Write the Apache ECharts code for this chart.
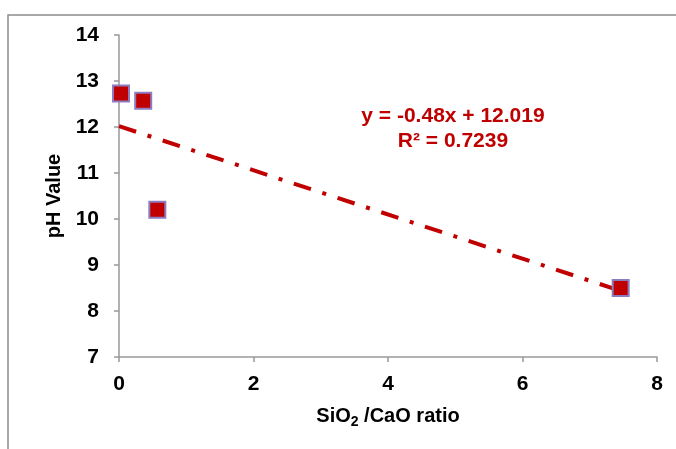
<!DOCTYPE html>
<html>
<head>
<meta charset="utf-8" />
<title>pH vs SiO2/CaO</title>
<script src="https://cdn.jsdelivr.net/npm/echarts@6/dist/echarts.min.js"></script>
<style>
  html, body { margin: 0; padding: 0; background: #fff; }
  #chart { width: 676px; height: 449px; }
</style>
</head>
<body>
<div id="chart"></div>
<script>
// measured points
const ratio = [0.03, 0.36, 0.57, 7.46];
const ph = [12.73, 12.57, 10.2, 8.5];
// trend line end points (y = -0.48x + 12.019)
const trendX = [0, 7.46];
const trendY = [12.019, 8.438];
const eqText = ['y = -0.48x + 12.019', 'R² = 0.7239'];

const red = '#C00000';
const chart = echarts.init(document.getElementById('chart'));

const pts = ratio.map(function (x, i) { return [x, ph[i]]; });
const trend = trendX.map(function (x, i) { return [x, trendY[i]]; });

chart.setOption({
  animation: false,
  textStyle: { fontFamily: 'Liberation Sans, Arial, sans-serif' },
  grid: { left: 119, right: 19, top: 35, bottom: 92 },
  graphic: [
    {
      type: 'rect',
      shape: { x: 8, y: 15, width: 720, height: 500 },
      style: { fill: 'none', stroke: '#8c8c8c', lineWidth: 1.5 },
      silent: true
    },
    {
      type: 'text',
      style: {
        text: eqText.join('\n'), x: 453, y: 104, textAlign: 'center',
        fill: red, font: 'bold 21px Liberation Sans, Arial', lineHeight: 25
      },
      silent: true
    }
  ],
  xAxis: {
    type: 'value', min: 0, max: 8, interval: 2,
    name: '{a|SiO}{s|2}{a| /CaO ratio}',
    nameLocation: 'middle', nameGap: 46,
    nameTextStyle: {
      rich: {
        a: { fontSize: 20, fontWeight: 'bold', color: '#000' },
        s: { fontSize: 14, fontWeight: 'bold', color: '#000', padding: [12, 0, 0, 0] }
      }
    },
    axisLine: { lineStyle: { color: '#999', width: 1.5 } },
    axisTick: { show: true, length: 5, lineStyle: { color: '#999', width: 1.5 } },
    axisLabel: { color: '#000', fontSize: 21, fontWeight: 'bold', margin: 17 },
    splitLine: { show: false }
  },
  yAxis: {
    type: 'value', min: 7, max: 14, interval: 1,
    name: 'pH Value',
    nameLocation: 'middle', nameGap: 49, nameRotate: 90,
    nameTextStyle: { fontSize: 20, fontWeight: 'bold', color: '#000' },
    axisLine: { show: true, lineStyle: { color: '#999', width: 1.5 } },
    axisTick: { show: true, length: 5, lineStyle: { color: '#999', width: 1.5 } },
    axisLabel: { color: '#000', fontSize: 21, fontWeight: 'bold', margin: 20 },
    splitLine: { show: false }
  },
  series: [
    {
      type: 'line',
      data: trend,
      symbol: 'none',
      z: 2,
      lineStyle: { color: red, width: 4, type: [18, 12, 4, 12] }
    },
    {
      type: 'scatter',
      data: pts,
      symbol: 'rect',
      symbolSize: 16,
      z: 3,
      itemStyle: { color: red, borderColor: '#8e7cc3', borderWidth: 2, opacity: 1 }
    }
  ]
});
</script>
</body>
</html>
